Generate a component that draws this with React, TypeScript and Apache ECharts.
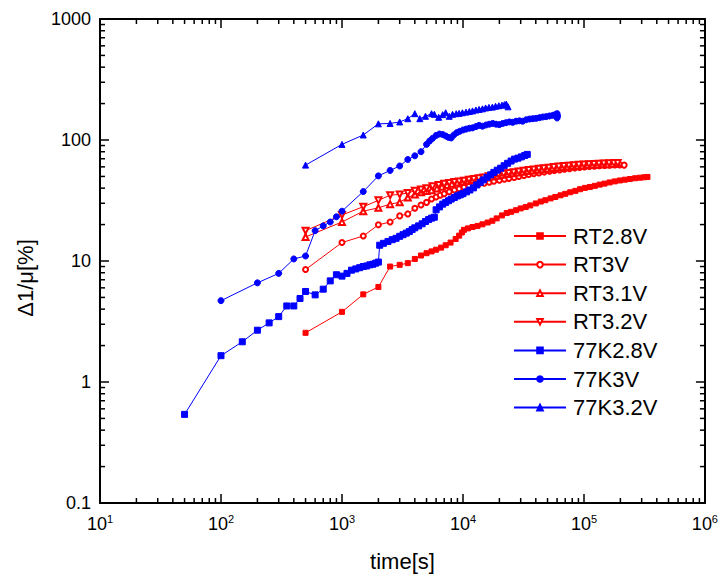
import React, { useEffect, useRef } from "react";
import * as echarts from "echarts";

// ---- data (time [s], Δ1/μ [%]) ----
const rt28V: [number, number][] = [
  [500, 2.55], [1000, 3.8], [1500, 5.3], [2000, 6.1], [2500, 9.0], [3000, 9.3], [3500, 9.6], [4000, 10.4],
  [4500, 11.1], [5000, 11.6], [5500, 12.0], [6000, 12.4], [6600, 12.9], [7200, 13.5], [7900, 14.2], [8700, 15.2],
  [9300, 16.2], [9800, 17.2], [10200, 18.1], [11000, 18.6], [12000, 19.1], [13200, 19.5], [14500, 20.1], [16000, 20.8],
  [17500, 21.5], [19000, 22.5], [21000, 23.8], [23000, 24.9], [25000, 25.5], [27500, 26.3], [30000, 27.2], [33000, 27.9],
  [36000, 28.8], [40000, 29.9], [44000, 31.0], [48000, 31.8], [53000, 32.9], [58000, 33.8], [64000, 34.9], [70000, 35.9],
  [77000, 37.0], [85000, 38.0], [93000, 39.2], [102000, 40.2], [112000, 40.9], [123000, 41.8], [135000, 42.8],
  [148000, 43.6], [163000, 44.6], [180000, 45.5], [198000, 46.3], [218000, 47.0], [240000, 47.6], [265000, 48.3],
  [290000, 48.8], [315000, 49.2], [335000, 49.5],
];
const rt3V: [number, number][] = [
  [500, 8.5], [1000, 14.2], [1500, 16.1], [2000, 19.9], [2500, 21.0], [3000, 23.6], [3500, 24.5], [4000, 27.3],
  [4500, 29.0], [5000, 30.5], [5500, 32.5], [6000, 33.8], [6500, 35.0], [7000, 36.0], [7700, 37.4], [8500, 38.6],
  [9300, 39.6], [10200, 40.6], [11200, 41.5], [12300, 42.3], [13500, 43.2], [15000, 44.0], [16500, 44.8], [18000, 45.6],
  [20000, 46.5], [22000, 47.4], [24000, 48.2], [26500, 49.0], [29000, 50.0], [32000, 51.0], [35000, 51.8], [38500, 52.6],
  [42500, 53.4], [47000, 54.3], [52000, 55.1], [57000, 55.9], [63000, 56.6], [69000, 57.3], [76000, 57.9], [84000, 58.6],
  [92000, 59.2], [101000, 59.8], [111000, 60.3], [122000, 60.8], [134000, 61.2], [148000, 61.6], [163000, 61.9],
  [180000, 62.1], [198000, 62.3], [215000, 62.0],
];
const rt31V: [number, number][] = [
  [500, 15.8], [1000, 21.0], [1500, 25.8], [2000, 27.5], [2500, 29.5], [3000, 30.6], [3500, 33.5], [4000, 35.5],
  [4500, 37.0], [5000, 37.8], [5500, 38.5], [6100, 39.8], [6700, 41.0], [7400, 42.4], [8100, 43.5], [9000, 44.5],
  [10000, 45.5], [11000, 46.3], [12100, 47.0], [13300, 47.6], [14600, 48.3], [16000, 49.1], [17600, 49.9], [19400, 50.7],
  [21300, 51.5], [23500, 52.3], [25800, 53.0], [28400, 53.8], [31200, 54.6], [34300, 55.4], [37700, 56.1], [41500, 56.8],
  [45600, 57.4], [50200, 58.0], [55200, 58.7], [60700, 59.3], [66800, 59.9], [73500, 60.4], [80800, 60.9], [88900, 61.3],
  [97800, 61.7], [107600, 62.0], [118300, 62.3], [130100, 62.6], [143100, 62.9], [157400, 63.1], [173200, 63.3], [190000, 63.5],
];
const rt32V: [number, number][] = [
  [500, 17.8], [1000, 24.0], [1500, 28.1], [2000, 31.7], [2500, 35.0], [3000, 35.5], [3500, 36.5], [4000, 38.0],
  [4500, 39.0], [5000, 40.0], [5600, 41.4], [6300, 42.5], [7000, 43.4], [7700, 44.2], [8500, 45.0], [9300, 45.5],
  [10200, 46.1], [11200, 46.9], [12300, 47.6], [13500, 48.4], [14800, 49.1], [16300, 50.1], [17900, 51.0], [19700, 51.8],
  [21700, 52.6], [23900, 53.4], [26300, 54.2], [28900, 55.0], [31800, 55.8], [35000, 56.5], [38500, 57.1], [42400, 57.8],
  [46600, 58.4], [51300, 59.1], [56400, 59.7], [62000, 60.3], [68200, 60.9], [75000, 61.4], [82500, 61.9], [90800, 62.3],
  [99900, 62.7], [110000, 63.1], [121000, 63.4], [133000, 63.7], [146000, 64.0], [161000, 64.2], [177000, 64.4], [190000, 64.5],
];
const k77_28V: [number, number][] = [
  [50, 0.54], [100, 1.65], [150, 2.15], [200, 2.68], [250, 3.08], [300, 3.47], [350, 4.25], [400, 4.25], [450, 4.9],
  [500, 5.6], [600, 5.25], [700, 5.85], [800, 6.85], [900, 7.7], [1000, 7.5], [1100, 7.9], [1200, 8.4], [1300, 8.6],
  [1400, 8.8], [1500, 9.0], [1600, 9.1], [1700, 9.3], [1800, 9.4], [1900, 9.6], [2000, 9.8], [2050, 13.5], [2200, 14.0],
  [2400, 14.5], [2600, 15.0], [2800, 15.4], [3000, 16.0], [3200, 16.5], [3400, 17.0], [3600, 17.5], [3800, 18.2],
  [4000, 18.8], [4300, 19.5], [4600, 20.3], [4900, 21.2], [5200, 22.0], [5500, 22.6], [5800, 23.0], [6000, 26.5],
  [6400, 28.0], [6800, 29.5], [7200, 30.5], [7600, 31.5], [8000, 32.5], [8500, 33.5], [9000, 34.5], [9500, 35.2],
  [10000, 36.0], [10700, 37.3], [11400, 38.6], [12200, 40.2], [13000, 42.5], [13900, 44.6], [14800, 46.8], [15800, 49.2],
  [16900, 51.5], [18000, 54.0], [19200, 56.3], [20500, 58.5], [21900, 61.3], [23400, 64.2], [25000, 67.0], [26700, 69.5],
  [28500, 70.8], [30400, 72.5], [32400, 74.5], [34000, 76.0],
];
const k77_3V: [number, number][] = [
  [100, 4.7], [200, 6.6], [300, 7.9], [400, 10.4], [500, 11.0], [600, 17.8], [700, 19.5], [800, 21.0], [900, 23.2],
  [1000, 25.8], [1500, 37.5], [2000, 50.5], [2500, 56], [3000, 61], [3500, 69], [4000, 74], [4500, 80], [5000, 92],
  [5300, 98], [5600, 103], [6000, 109], [6400, 112], [6800, 111], [7200, 108], [7600, 105], [8000, 104], [8400, 110],
  [8900, 115], [9400, 118], [10000, 121], [10600, 123], [11300, 125], [12000, 126], [12800, 129], [13600, 132],
  [14500, 130], [15500, 133], [16500, 135], [17600, 137], [18800, 135], [20000, 134], [21300, 137], [22700, 139],
  [24200, 141], [25800, 140], [27500, 143], [29300, 144], [31200, 143], [33300, 147], [35500, 149], [37800, 150],
  [40300, 151], [43000, 153], [45800, 155], [48800, 156], [52000, 158], [55400, 160], [58000, 162], [60000, 165],
  [60500, 158], [60000, 152],
];
const k77_32V: [number, number][] = [
  [500, 62], [1000, 92], [1500, 110], [2000, 136], [2500, 137], [3000, 141], [3500, 150], [4000, 165], [4400, 150],
  [4900, 157], [5500, 165], [5800, 163], [6300, 154], [6800, 162], [7200, 168], [7700, 157], [8200, 163], [8800, 165],
  [9300, 166], [9900, 168], [10600, 170], [11300, 172], [12000, 174], [12800, 177], [13600, 179], [14500, 181],
  [15400, 184], [16400, 186], [17500, 187], [18600, 190], [19800, 192], [21000, 194], [22000, 196], [22800, 198],
  [23600, 188],
];

const seriesNames = ["RT2.8V", "RT3V", "RT3.1V", "RT3.2V", "77K2.8V", "77K3V", "77K3.2V"];
const xRange = [10, 1000000];
const yRange = [0.1, 1000];
const minorMultipliers = [2, 3, 4, 5, 6, 7, 8, 9];
const xDecades = [10, 100, 1000, 10000, 100000];
const yDecades = [0.1, 1, 10, 100];

const FONT = "'Liberation Sans', Arial, Helvetica, sans-serif";

export default function App() {
  const ref = useRef<HTMLDivElement>(null);
  useEffect(() => {
    if (!ref.current) return;
    const chart = echarts.init(ref.current, undefined, { renderer: "svg" });
    const xMinor: number[][] = [];
    xDecades.forEach((d) => minorMultipliers.forEach((m) => xMinor.push([d * m, 1])));
    const yMinor: number[][] = [];
    yDecades.forEach((d) => minorMultipliers.forEach((m) => yMinor.push([100, d * m])));

    const expLabel = (v: number) => Math.round(Math.log10(v));
    const axisLine = { show: true, lineStyle: { color: "#000", width: 2 } };
    const majorTick = { show: true, inside: true, length: 9, lineStyle: { color: "#000", width: 1.5 } };

    const lineSeries = (
      name: string,
      data: [number, number][],
      color: string,
      symbol: string,
      size: number,
      rotate = 0
    ) => ({
      name,
      type: "line",
      data,
      symbol,
      symbolSize: size,
      symbolRotate: rotate,
      showSymbol: true,
      showAllSymbol: true,
      itemStyle: { color, borderColor: color, borderWidth: 1 },
      lineStyle: { color, width: 1 },
      xAxisIndex: 0,
      yAxisIndex: 0,
      z: 3,
    });

    const minorTickSeries = (data: number[][], horizontal: boolean) => ({
      type: "custom",
      silent: true,
      clip: false,
      xAxisIndex: 0,
      yAxisIndex: 0,
      z: 10,
      data,
      renderItem: (params: any, api: any) => {
        const cs = params.coordSys;
        const stroke = { stroke: "#000", lineWidth: 1.5 };
        if (horizontal) {
          const px = api.coord([api.value(0), 1])[0];
          const yb = cs.y + cs.height;
          const yt = cs.y;
          return {
            type: "group",
            children: [
              { type: "line", shape: { x1: px, y1: yb, x2: px, y2: yb - 5 }, style: stroke },
              { type: "line", shape: { x1: px, y1: yt, x2: px, y2: yt + 5 }, style: stroke },
            ],
          };
        }
        const py = api.coord([100, api.value(1)])[1];
        const xl = cs.x;
        const xr = cs.x + cs.width;
        return {
          type: "group",
          children: [
            { type: "line", shape: { x1: xl, y1: py, x2: xl + 5, y2: py }, style: stroke },
            { type: "line", shape: { x1: xr, y1: py, x2: xr - 5, y2: py }, style: stroke },
          ],
        };
      },
    });

    chart.setOption({
      animation: false,
      backgroundColor: "#fff",
      textStyle: { fontFamily: FONT },
      grid: { left: 100, right: 15, top: 19, bottom: 80, containLabel: false },
      legend: {
        data: seriesNames,
        orient: "vertical",
        left: 513,
        top: 225,
        padding: 0,
        itemWidth: 52,
        itemHeight: 7,
        itemGap: 6.6,
        textStyle: { fontFamily: FONT, fontSize: 22, color: "#000", lineHeight: 22, padding: [0, 0, 0, 2] },
      },
      xAxis: [
        {
          type: "log",
          logBase: 10,
          min: xRange[0],
          max: xRange[1],
          position: "bottom",
          splitLine: { show: false },
          axisLine,
          axisTick: majorTick,
          axisLabel: {
            margin: 10,
            color: "#000",
            fontFamily: FONT,
            formatter: (v: number) => `{b|10}{s|${expLabel(v)}}`,
            rich: {
              b: { fontSize: 18, fontFamily: FONT, color: "#000" },
              s: { fontSize: 11, fontFamily: FONT, color: "#000", verticalAlign: "top", padding: [0, 0, 10, 0] },
            },
          },
          name: "time[s]",
          nameLocation: "middle",
          nameGap: 47,
          nameTextStyle: { fontSize: 22, fontFamily: FONT, color: "#000" },
        },
        {
          type: "log",
          logBase: 10,
          min: xRange[0],
          max: xRange[1],
          position: "top",
          splitLine: { show: false },
          axisLine,
          axisTick: majorTick,
          axisLabel: { show: false },
        },
      ],
      yAxis: [
        {
          type: "log",
          logBase: 10,
          min: yRange[0],
          max: yRange[1],
          position: "left",
          splitLine: { show: false },
          axisLine,
          axisTick: majorTick,
          axisLabel: {
            margin: 9,
            color: "#000",
            fontSize: 18,
            fontFamily: FONT,
            formatter: (v: number) => {
              const e = expLabel(v);
              return e < 0 ? Math.pow(10, e).toFixed(-e) : String(Math.round(Math.pow(10, e)));
            },
          },
        },
        {
          type: "log",
          logBase: 10,
          min: yRange[0],
          max: yRange[1],
          position: "right",
          splitLine: { show: false },
          axisLine,
          axisTick: majorTick,
          axisLabel: { show: false },
        },
      ],
      graphic: [
        {
          type: "text",
          x: 25,
          y: 278,
          rotation: Math.PI / 2,
          style: {
            text: "Δ1/μ[%]",
            font: `22px ${FONT}`,
            fill: "#000",
            align: "center",
            verticalAlign: "middle",
            textAlign: "center",
            textVerticalAlign: "middle",
          },
        },
      ],
      series: [
        lineSeries("RT2.8V", rt28V, "#ff0000", "rect", 5),
        lineSeries("RT3V", rt3V, "#ff0000", "emptyCircle", 5),
        lineSeries("RT3.1V", rt31V, "#ff0000", "emptyTriangle", 6),
        lineSeries("RT3.2V", rt32V, "#ff0000", "emptyTriangle", 6, 180),
        lineSeries("77K2.8V", k77_28V, "#0000ff", "rect", 6),
        lineSeries("77K3V", k77_3V, "#0000ff", "circle", 6),
        lineSeries("77K3.2V", k77_32V, "#0000ff", "triangle", 6),
        minorTickSeries(xMinor, true),
        minorTickSeries(yMinor, false),
      ],
    });
    return () => chart.dispose();
  }, []);
  return (
    <div
      ref={ref}
      style={{ position: "fixed", left: 0, top: 0, width: 721, height: 583, background: "#fff" }}
    />
  );
}
